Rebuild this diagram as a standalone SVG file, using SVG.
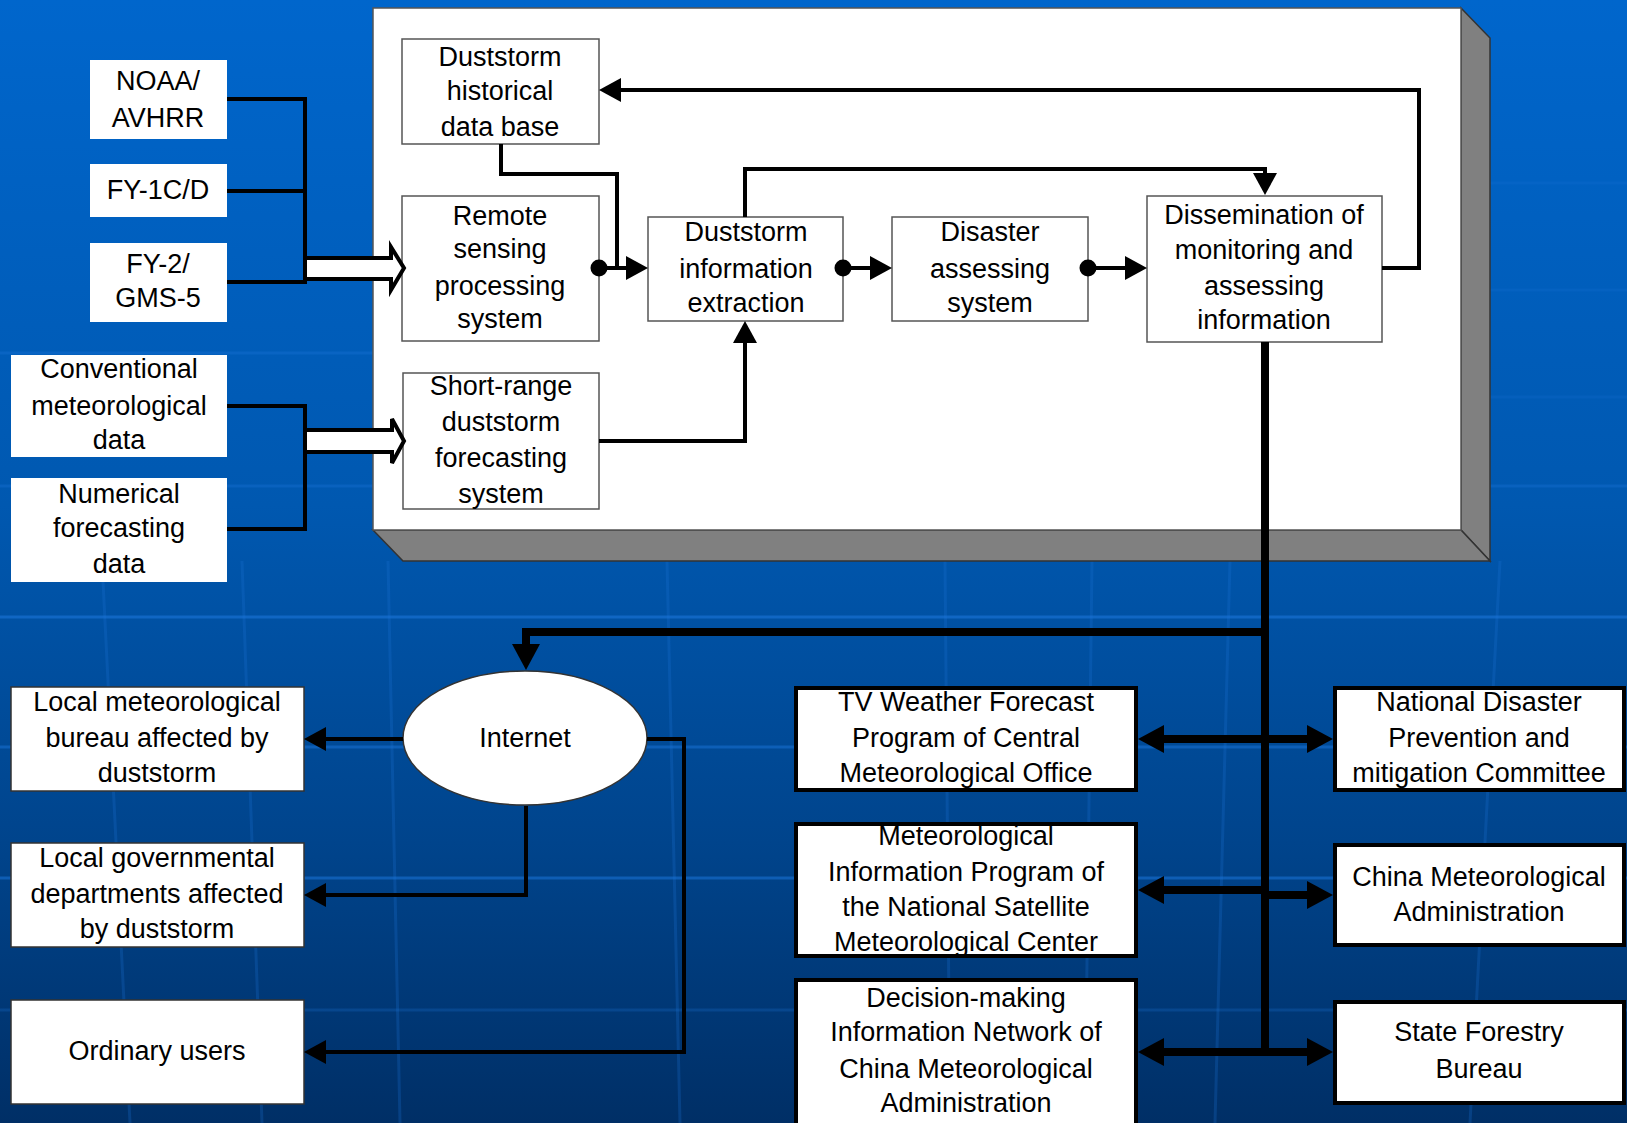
<svg xmlns="http://www.w3.org/2000/svg" width="1627" height="1123" viewBox="0 0 1627 1123">
<defs>
<linearGradient id="bg" x1="0" y1="0" x2="0" y2="1">
<stop offset="0" stop-color="#0066cc"/>
<stop offset="0.45" stop-color="#0058b0"/>
<stop offset="0.75" stop-color="#00448c"/>
<stop offset="1" stop-color="#002f66"/>
</linearGradient>
<marker id="ah" markerUnits="userSpaceOnUse" markerWidth="24" markerHeight="26" refX="0" refY="12" orient="auto" overflow="visible">
<path d="M0,0 L22,12 L0,24 z" fill="#000"/>
</marker>
<marker id="ahb" markerUnits="userSpaceOnUse" markerWidth="28" markerHeight="30" refX="0" refY="14" orient="auto" overflow="visible">
<path d="M0,0 L26,14 L0,28 z" fill="#000"/>
</marker>
<marker id="ahbs" markerUnits="userSpaceOnUse" markerWidth="28" markerHeight="30" refX="0" refY="14" orient="auto-start-reverse" overflow="visible">
<path d="M0,0 L26,14 L0,28 z" fill="#000"/>
</marker>
</defs>
<style>
text{font-family:"Liberation Sans",Arial,sans-serif;font-size:27px;fill:#000;text-anchor:middle}
.src{fill:#fff;stroke:none}
.inner{fill:#fff;stroke:#555;stroke-width:1.5}
.thin{fill:#fff;stroke:#333;stroke-width:1.5}
.bold{fill:#fff;stroke:#000;stroke-width:4}
.ln{fill:none;stroke:#000;stroke-width:4}
.thick{fill:none;stroke:#000;stroke-width:8}
.grid{fill:none;stroke:#1a74d8;stroke-width:3}
.dot{fill:#000}
</style>
<rect width="1627" height="1123" fill="url(#bg)"/>
<g id="background-grid">
<path class="grid" opacity="0.2" d="M1490,183 H1627 M1490,290 H1627 M1490,397 H1627"/>
<path class="grid" opacity="0.35" d="M0,353 H373 M0,486 H1627"/>
<path class="grid" opacity="0.6" d="M0,617 H1627"/>
<path class="grid" opacity="0.5" d="M0,747 H1627"/>
<path class="grid" opacity="0.55" d="M0,878 H1627"/>
<path class="grid" opacity="0.25" d="M0,1010 H1627"/>
<path class="grid" opacity="0.25" d="M102,561 L130,1123 M242,561 L262,1123 M388,561 L400,1123 M667,561 L680,1123 M945,561 L950,1123 M1092,561 L1085,1123 M1230,561 L1215,1123 M1500,561 L1470,1123"/>
</g>
<g id="panel">
<polygon points="1461,8 1490,38 1490,561 1461,530" fill="#808080" stroke="#333" stroke-width="1.5"/>
<polygon points="373,530 1461,530 1490,561 403,561" fill="#808080" stroke="#333" stroke-width="1.5"/>
<rect x="373" y="8" width="1088" height="522" fill="#fff" stroke="#555" stroke-width="1.5"/>
</g>
<g id="noaa"><rect class="src" x="90" y="60" width="137" height="79"/><text x="158" y="90">NOAA/</text><text x="158" y="127">AVHRR</text></g>
<g id="fy1"><rect class="src" x="90" y="164" width="137" height="53"/><text x="158" y="199">FY-1C/D</text></g>
<g id="fy2"><rect class="src" x="90" y="243" width="137" height="79"/><text x="158" y="273">FY-2/</text><text x="158" y="307">GMS-5</text></g>
<g id="conventional"><rect class="src" x="11" y="355" width="216" height="102"/><text x="119" y="378">Conventional</text><text x="119" y="415">meteorological</text><text x="119" y="449">data</text></g>
<g id="numerical"><rect class="src" x="11" y="478" width="216" height="104"/><text x="119" y="503">Numerical</text><text x="119" y="537">forecasting</text><text x="119" y="573">data</text></g>
<g id="histdb"><rect class="inner" x="402" y="39" width="197" height="105"/><text x="500" y="66">Duststorm</text><text x="500" y="100">historical</text><text x="500" y="136">data base</text></g>
<g id="remote"><rect class="inner" x="402" y="196" width="197" height="145"/><text x="500" y="225">Remote</text><text x="500" y="258">sensing</text><text x="500" y="295">processing</text><text x="500" y="328">system</text></g>
<g id="extraction"><rect class="inner" x="648" y="217" width="195" height="104"/><text x="746" y="241">Duststorm</text><text x="746" y="278">information</text><text x="746" y="312">extraction</text></g>
<g id="disaster"><rect class="inner" x="892" y="217" width="196" height="104"/><text x="990" y="241">Disaster</text><text x="990" y="278">assessing</text><text x="990" y="312">system</text></g>
<g id="dissemination"><rect class="inner" x="1147" y="196" width="235" height="146"/><text x="1264" y="224">Dissemination of</text><text x="1264" y="259">monitoring and</text><text x="1264" y="295">assessing</text><text x="1264" y="329">information</text></g>
<g id="shortrange"><rect class="inner" x="403" y="373" width="196" height="136"/><text x="501" y="395">Short-range</text><text x="501" y="431">duststorm</text><text x="501" y="467">forecasting</text><text x="501" y="503">system</text></g>
<g id="internet"><ellipse class="thin" cx="525" cy="738" rx="122" ry="67"/><text x="525" y="747">Internet</text></g>
<g id="localmet"><rect class="thin" x="11" y="687" width="293" height="104"/><text x="157" y="711">Local meteorological</text><text x="157" y="747">bureau affected by</text><text x="157" y="782">duststorm</text></g>
<g id="localgov"><rect class="thin" x="11" y="843" width="293" height="104"/><text x="157" y="867">Local governmental</text><text x="157" y="903">departments affected</text><text x="157" y="938">by duststorm</text></g>
<g id="ordinary"><rect class="thin" x="11" y="1000" width="293" height="104"/><text x="157" y="1060">Ordinary users</text></g>
<g id="tv"><rect class="bold" x="796" y="688" width="340" height="102"/><text x="966" y="711">TV Weather Forecast</text><text x="966" y="747">Program of Central</text><text x="966" y="782">Meteorological Office</text></g>
<g id="metinfo"><rect class="bold" x="796" y="824" width="340" height="132"/><text x="966" y="845">Meteorological</text><text x="966" y="881">Information Program of</text><text x="966" y="916">the National Satellite</text><text x="966" y="951">Meteorological Center</text></g>
<g id="decision"><rect class="bold" x="796" y="980" width="340" height="160"/><text x="966" y="1007">Decision-making</text><text x="966" y="1041">Information Network of</text><text x="966" y="1078">China Meteorological</text><text x="966" y="1112">Administration</text></g>
<g id="ndp"><rect class="bold" x="1335" y="688" width="289" height="102"/><text x="1479" y="711">National Disaster</text><text x="1479" y="747">Prevention and</text><text x="1479" y="782">mitigation Committee</text></g>
<g id="cma"><rect class="bold" x="1335" y="845" width="289" height="100"/><text x="1479" y="886">China Meteorological</text><text x="1479" y="921">Administration</text></g>
<g id="sfb"><rect class="bold" x="1335" y="1002" width="289" height="101"/><text x="1479" y="1041">State Forestry</text><text x="1479" y="1078">Bureau</text></g>
<g id="connectors">
<path class="ln" d="M227,99 H305 V282 H227 M227,191 H305"/>
<polygon points="305,258 391,258 391,247 404,268 391,290 391,279 305,279" fill="#fff" stroke="#000" stroke-width="4"/>
<path class="ln" d="M227,406 H305 V529 H227"/>
<polygon points="305,430 392,430 392,419 404,441 392,463 392,452 305,452" fill="#fff" stroke="#000" stroke-width="4"/>
<path class="ln" d="M501,144 V174 H617 V268"/>
<path class="ln" d="M599,268 H626" marker-end="url(#ah)"/>
<circle class="dot" cx="599" cy="268" r="8.5"/>
<path class="ln" d="M843,268 H870" marker-end="url(#ah)"/>
<circle class="dot" cx="843" cy="268" r="8.5"/>
<path class="ln" d="M1088,268 H1125" marker-end="url(#ah)"/>
<circle class="dot" cx="1088" cy="268" r="8.5"/>
<path class="ln" d="M745,217 V169 H1265 V173" marker-end="url(#ah)"/>
<path class="ln" d="M1382,268 H1419 V90 H621" marker-end="url(#ah)"/>
<path class="ln" d="M599,441 H745 V343" marker-end="url(#ah)"/>
<path class="thick" d="M1265,342 V1056"/>
<path class="thick" d="M1269,632 H526 V644" marker-end="url(#ahb)"/>
<path class="thick" d="M1164,739 H1307" marker-start="url(#ahbs)" marker-end="url(#ahb)"/>
<path class="thick" d="M1164,890 H1265" marker-start="url(#ahbs)"/>
<path class="thick" d="M1261,895 H1307" marker-end="url(#ahb)"/>
<path class="thick" d="M1164,1052 H1307" marker-start="url(#ahbs)" marker-end="url(#ahb)"/>
<path class="ln" d="M403,739 H326" marker-end="url(#ah)"/>
<path class="ln" d="M526,806 V895 H326" marker-end="url(#ah)"/>
<path class="ln" d="M647,739 H684 V1052 H326" marker-end="url(#ah)"/>
</g>
</svg>
